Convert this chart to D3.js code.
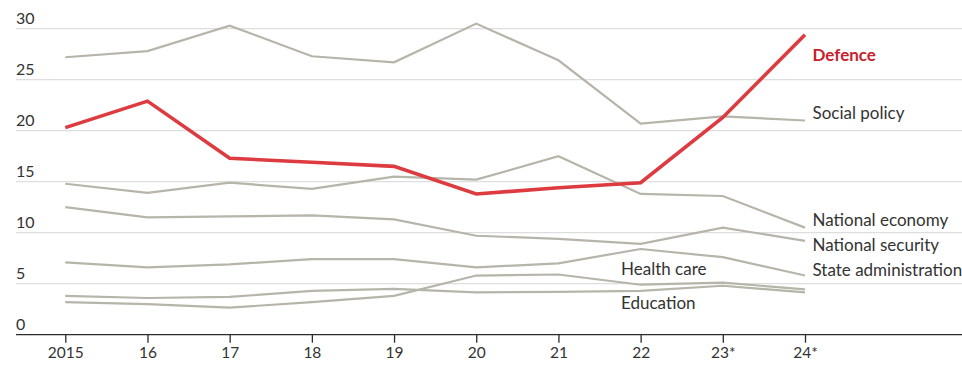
<!DOCTYPE html>
<html>
<head>
<meta charset="utf-8">
<script src="https://cdn.jsdelivr.net/npm/d3@7"></script>
<style>
  html, body { margin: 0; padding: 0; background: #fff; }
  svg { display: block; font-family: Lato, "Open Sans", sans-serif; }
</style>
</head>
<body>
<svg id="chart" width="962" height="365"></svg>
<script>
// Years on the x axis (forecast years marked with *)
const years = ["2015", "16", "17", "18", "19", "20", "21", "22", "23*", "24*"];
const yTicks = [0, 5, 10, 15, 20, 25, 30];

// Share of federal spending, % — one array per budget item
const defence            = [20.3, 22.9, 17.3, 16.9, 16.5, 13.8, 14.4, 14.9, 21.3, 29.4];
const socialPolicy       = [27.2, 27.8, 30.3, 27.3, 26.7, 30.5, 26.9, 20.7, 21.4, 21.0];
const nationalEconomy    = [14.8, 13.9, 14.9, 14.3, 15.5, 15.2, 17.5, 13.8, 13.6, 10.5];
const nationalSecurity   = [12.5, 11.5, 11.6, 11.7, 11.3, 9.7, 9.4, 8.9, 10.5, 9.2];
const stateAdministration = [7.1, 6.6, 6.9, 7.4, 7.4, 6.6, 7.0, 8.4, 7.6, 5.8];
const healthCare         = [3.2, 3.0, 2.65, 3.2, 3.8, 5.8, 5.9, 4.9, 5.1, 4.45];
const education          = [3.8, 3.6, 3.7, 4.3, 4.5, 4.15, 4.2, 4.3, 4.8, 4.15];

const series = [
  { name: "Social policy", values: socialPolicy, label: "end" },
  { name: "National economy", values: nationalEconomy, label: "end" },
  { name: "National security", values: nationalSecurity, label: "end" },
  { name: "State administration", values: stateAdministration, label: "end" },
  { name: "Health care", values: healthCare, label: "inside", at: 7, dy: -16 },
  { name: "Education", values: education, label: "inside", at: 7, dy: 12 },
  { name: "Defence", values: defence, label: "end", highlight: true }
];

const W = 962, H = 365;
const svg = d3.select("#chart");

const x = d3.scalePoint().domain(years).range([65.3, 805]);
const y = d3.scaleLinear().domain([0, 30]).range([334.7, 28.7]);

const gridLeft = 16, gridRight = W;

// Horizontal gridlines
svg.append("g")
  .selectAll("line")
  .data(yTicks.filter(d => d > 0))
  .join("line")
  .attr("x1", gridLeft).attr("x2", gridRight)
  .attr("y1", d => y(d)).attr("y2", d => y(d))
  .attr("stroke", "#dedede").attr("stroke-width", 1.3);

// Y tick labels sit just above their gridline
svg.append("g")
  .selectAll("text")
  .data(yTicks)
  .join("text")
  .attr("x", gridLeft)
  .attr("y", d => y(d) - 5)
  .attr("fill", "#333")
  .attr("font-size", 16)
  .text(d => d);

// X axis
const xAxis = svg.append("g")
  .attr("transform", `translate(0,${y(0)})`)
  .call(d3.axisBottom(x).tickSize(8).tickPadding(4).tickSizeOuter(0));
xAxis.select(".domain").remove();
xAxis.insert("line", ":first-child")
  .attr("x1", gridLeft).attr("x2", gridRight)
  .attr("stroke", "#2b2b2b").attr("stroke-width", 1.3);
xAxis.selectAll(".tick line").attr("stroke", "#2b2b2b").attr("stroke-width", 1.3);
xAxis.selectAll(".tick text")
  .attr("fill", "#333")
  .attr("font-size", 15.5)
  .attr("font-family", "Lato, 'Open Sans', sans-serif");

const line = d3.line()
  .x((d, i) => x(years[i]))
  .y(d => y(d));

// Lines: grey context first, highlighted series on top
svg.append("g")
  .selectAll("path")
  .data(series)
  .join("path")
  .attr("d", d => line(d.values))
  .attr("fill", "none")
  .attr("stroke", d => d.highlight ? "#dd3b40" : "#b6b5aa")
  .attr("stroke-width", d => d.highlight ? 3.6 : 2.2)
  .attr("stroke-linejoin", "miter");

// Series labels
const endLabelY = {
  "Defence": 55, "Social policy": 113.5, "National economy": 220.5,
  "National security": 245, "State administration": 270
};
svg.append("g")
  .selectAll("text")
  .data(series)
  .join("text")
  .attr("x", d => d.label === "end" ? 812.5 : 621)
  .attr("y", d => d.label === "end" ? endLabelY[d.name]
                                     : y(d.values[d.at]) + d.dy)
  .attr("dy", "0.35em")
  .attr("font-size", 17)
  .attr("font-weight", d => d.highlight ? 700 : 400)
  .attr("fill", d => d.highlight ? "#c8212b" : "#333")
  .text(d => d.name);
</script>
</body>
</html>
